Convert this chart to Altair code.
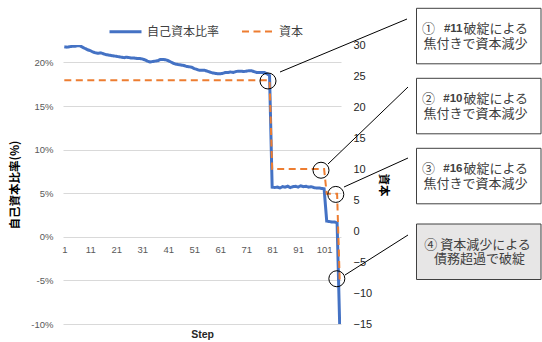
import altair as alt
import pandas as pd

# ---------------- data ----------------
steps = list(range(1, 108))

equity_ratio = [
    21.8, 21.75, 21.8, 21.85, 21.85, 21.9, 21.9, 21.75, 21.6, 21.45,
    21.35, 21.2, 21.1, 21.05, 21.1, 21.0, 20.9, 20.85, 20.8, 20.75,
    20.7, 20.65, 20.6, 20.55, 20.6, 20.55, 20.5, 20.5, 20.45, 20.45,
    20.4, 20.3, 20.15, 20.05, 20.1, 20.15, 20.2, 20.35, 20.35, 20.3,
    20.2, 20.05, 19.9, 19.8, 19.75, 19.7, 19.65, 19.55, 19.5, 19.45,
    19.3, 19.2, 19.1, 19.1, 19.1, 19.0, 18.9, 18.8, 18.75, 18.7,
    18.7, 18.75, 18.85, 18.85, 18.9, 18.85, 18.95, 19.0, 19.0, 18.95,
    19.0, 19.05, 19.05, 18.95, 18.85, 18.85, 18.85, 18.85, 18.7, 18.5,
    5.7, 5.65, 5.7, 5.6, 5.75, 5.7, 5.8, 5.65, 5.75, 5.8,
    5.7, 5.85, 5.75, 5.8, 5.7, 5.75, 5.65, 5.6, 5.6, 5.55,
    5.5, 1.8, 1.75, 1.7, 1.7, 1.6, -10.2,
]

capital = [
    24.3, 24.3, 24.3, 24.3, 24.3, 24.3, 24.3, 24.3, 24.3, 24.3,
    24.3, 24.3, 24.3, 24.3, 24.3, 24.3, 24.3, 24.3, 24.3, 24.3,
    24.3, 24.3, 24.3, 24.3, 24.3, 24.3, 24.3, 24.3, 24.3, 24.3,
    24.3, 24.3, 24.3, 24.3, 24.3, 24.3, 24.3, 24.3, 24.3, 24.3,
    24.3, 24.3, 24.3, 24.3, 24.3, 24.3, 24.3, 24.3, 24.3, 24.3,
    24.3, 24.3, 24.3, 24.3, 24.3, 24.3, 24.3, 24.3, 24.3, 24.3,
    24.3, 24.3, 24.3, 24.3, 24.3, 24.3, 24.3, 24.3, 24.3, 24.3,
    24.3, 24.3, 24.3, 24.3, 24.3, 24.3, 24.3, 24.3, 24.3, 24.3,
    10.0, 10.0, 10.0, 10.0, 10.0, 10.0, 10.0, 10.0, 10.0, 10.0,
    10.0, 10.0, 10.0, 10.0, 10.0, 10.0, 10.0, 10.0, 10.0, 10.0,
    10.0, 6.0, 6.0, 6.0, 6.0, 6.0, -7.9,
]

series_names = ["自己資本比率", "資本"]
x_tick_values = [1, 11, 21, 31, 41, 51, 61, 71, 81, 91, 101]
left_tick_values = [-10, -5, 0, 5, 10, 15, 20]
right_tick_values = [-15, -10, -5, 0, 5, 10, 15, 20, 25, 30]

# circled events (step, capital)
circle_steps = [79.4, 99.8, 105.5, 105.9]
circle_values = [24.2, 9.8, 5.9, -7.7]

callout_line1 = [("①", "#11", "破綻による"), ("②", "#10", "破綻による"), ("③", "#16", "破綻による")]
callout_line2 = "焦付きで資本減少"
callout4_lines = ["④ 資本減少による", "債務超過で破綻"]

# ---------------- chart ----------------
JP = "Noto Sans CJK JP"
LAT = "Liberation Sans"
W, H = 278, 279

df_eq = pd.DataFrame({"step": steps, "value": equity_ratio, "series": series_names[0]})
df_cap = pd.DataFrame({"step": steps, "value": capital, "series": series_names[1]})
df_circ = pd.DataFrame({"step": circle_steps, "value": circle_values})

x_scale = alt.Scale(domain=[0.5, 107.5], nice=False, zero=False)
left_scale = alt.Scale(domain=[-10, 22], nice=False, zero=False)
right_scale = alt.Scale(domain=[-15, 30], nice=False, zero=False)

legend = alt.Legend(
    orient="none", legendX=45, legendY=-31, direction="horizontal", title=None,
    symbolType="stroke", symbolSize=1024, labelFont=JP, labelFontSize=12,
    labelColor="#404040", labelOffset=4, columnPadding=18, padding=0,
)
color_enc = alt.Color("series:N", scale=alt.Scale(domain=series_names, range=["#4472C4", "#ED7D31"]), legend=legend)
dash_enc = alt.StrokeDash("series:N", scale=alt.Scale(domain=series_names, range=[[1, 0], [7, 4.5]]), legend=legend)
width_enc = alt.StrokeWidth("series:N", scale=alt.Scale(domain=series_names, range=[3, 2]), legend=legend)

x_axis = alt.Axis(
    values=x_tick_values, offset=-87.2, domain=False, ticks=False, grid=False,
    labelFont=LAT, labelFontSize=9.5, labelColor="#595959", labelPadding=8,
    labelOverlap=False, labelBound=False, labelFlush=False,
    title="Step", titleFont=LAT, titleFontSize=10.5, titleFontWeight="bold",
    titleColor="#262626", titleY=98, titleBaseline="middle",
)
left_axis = alt.Axis(
    values=left_tick_values, labelExpr="datum.value + '%'", grid=True, gridColor="#d9d9d9",
    domain=False, ticks=False, labelFont=LAT, labelFontSize=9.5, labelColor="#595959",
    labelPadding=10, title="自己資本比率(%)", titleFont=JP, titleFontSize=11.5,
    titleFontWeight="bold", titleColor="#000000", titleAngle=270, titleX=-48, titleY=139.5,
    titleAlign="center", titleBaseline="middle",
)
right_axis = alt.Axis(
    orient="right", values=right_tick_values, grid=False, domain=False, ticks=False,
    labelFont=LAT, labelFontSize=11, labelColor="#262626", labelPadding=12,
    title="資本", titleFont=JP, titleFontSize=11.5, titleFontWeight="bold",
    titleColor="#000000", titleAngle=90, titleX=41, titleY=139.5,
    titleAlign="center", titleBaseline="middle",
)

blue = alt.Chart(df_eq).mark_line(clip=True).encode(
    x=alt.X("step:Q", scale=x_scale, axis=x_axis),
    y=alt.Y("value:Q", scale=left_scale, axis=left_axis),
    color=color_enc, strokeDash=dash_enc, strokeWidth=width_enc,
)
orange = alt.Chart(df_cap).mark_line(clip=True).encode(
    x=alt.X("step:Q", scale=x_scale, axis=x_axis),
    y=alt.Y("value:Q", scale=right_scale, axis=right_axis),
    color=color_enc, strokeDash=dash_enc, strokeWidth=width_enc,
)
circles = alt.Chart(df_circ).mark_point(
    shape="circle", size=256, filled=False, color="#000000", strokeWidth=1, opacity=1
).encode(
    x=alt.X("step:Q", scale=x_scale, axis=x_axis),
    y=alt.Y("value:Q", scale=right_scale, axis=None),
)

one = pd.DataFrame({"k": [0]})
layers = [blue, orange, circles]

# connector lines (pixel positions relative to plot area)
connectors = [(217, 27, 344, -26), (265, 119, 345, 42), (281, 142, 345, 113), (282, 230, 345, 190)]
for (a, b, c, d) in connectors:
    layers.append(alt.Chart(one).mark_rule(color="#000000", strokeWidth=1).encode(
        x=alt.value(a), y=alt.value(b), x2=alt.value(c), y2=alt.value(d)))

box_tops = [-36.7, 33.3, 103.3, 179]
box_h = 55.5
bx0, bx1 = 353.5, 478
for i, top in enumerate(box_tops):
    fill = "#E7E6E6" if i == 3 else "#FFFFFF"
    layers.append(alt.Chart(one).mark_rect(fill=fill, stroke="#404040", strokeWidth=1).encode(
        x=alt.value(bx0), x2=alt.value(bx1), y=alt.value(top), y2=alt.value(top + box_h)))

FS = 13
for i in range(3):
    top = box_tops[i]
    y1 = top + 20.8
    y2 = top + 35.3
    c1, num, rest = callout_line1[i]
    layers.append(alt.Chart(one).mark_text(text=c1, font=JP, fontSize=FS, color="#404040",
                                           align="left", baseline="middle").encode(
        x=alt.value(359), y=alt.value(y1)))
    layers.append(alt.Chart(one).mark_text(text=num, font=LAT, fontSize=11.5, fontWeight="bold",
                                           color="#404040", align="right", baseline="middle").encode(
        x=alt.value(399.5), y=alt.value(y1)))
    layers.append(alt.Chart(one).mark_text(text=rest, font=JP, fontSize=FS, color="#404040",
                                           align="right", baseline="middle").encode(
        x=alt.value(465), y=alt.value(y1)))
    layers.append(alt.Chart(one).mark_text(text=callout_line2, font=JP, fontSize=FS, color="#404040",
                                           align="center", baseline="middle").encode(
        x=alt.value(412.5), y=alt.value(y2)))

top4 = box_tops[3]
layers.append(alt.Chart(one).mark_text(text=callout4_lines[0], font=JP, fontSize=FS, color="#404040",
                                       align="center", baseline="middle").encode(
    x=alt.value(414.5), y=alt.value(top4 + 20.5)))
layers.append(alt.Chart(one).mark_text(text=callout4_lines[1], font=JP, fontSize=FS, color="#404040",
                                       align="center", baseline="middle").encode(
    x=alt.value(416.5), y=alt.value(top4 + 35)))

chart = alt.layer(*layers).resolve_scale(y="independent").properties(
    width=W, height=H,
    autosize=alt.AutoSizeParams(type="none"),
    padding={"left": 63, "top": 45, "right": 201, "bottom": 18},
).configure_view(stroke=None)

chart.save("out.html", embed_options={"renderer": "svg", "actions": False})
